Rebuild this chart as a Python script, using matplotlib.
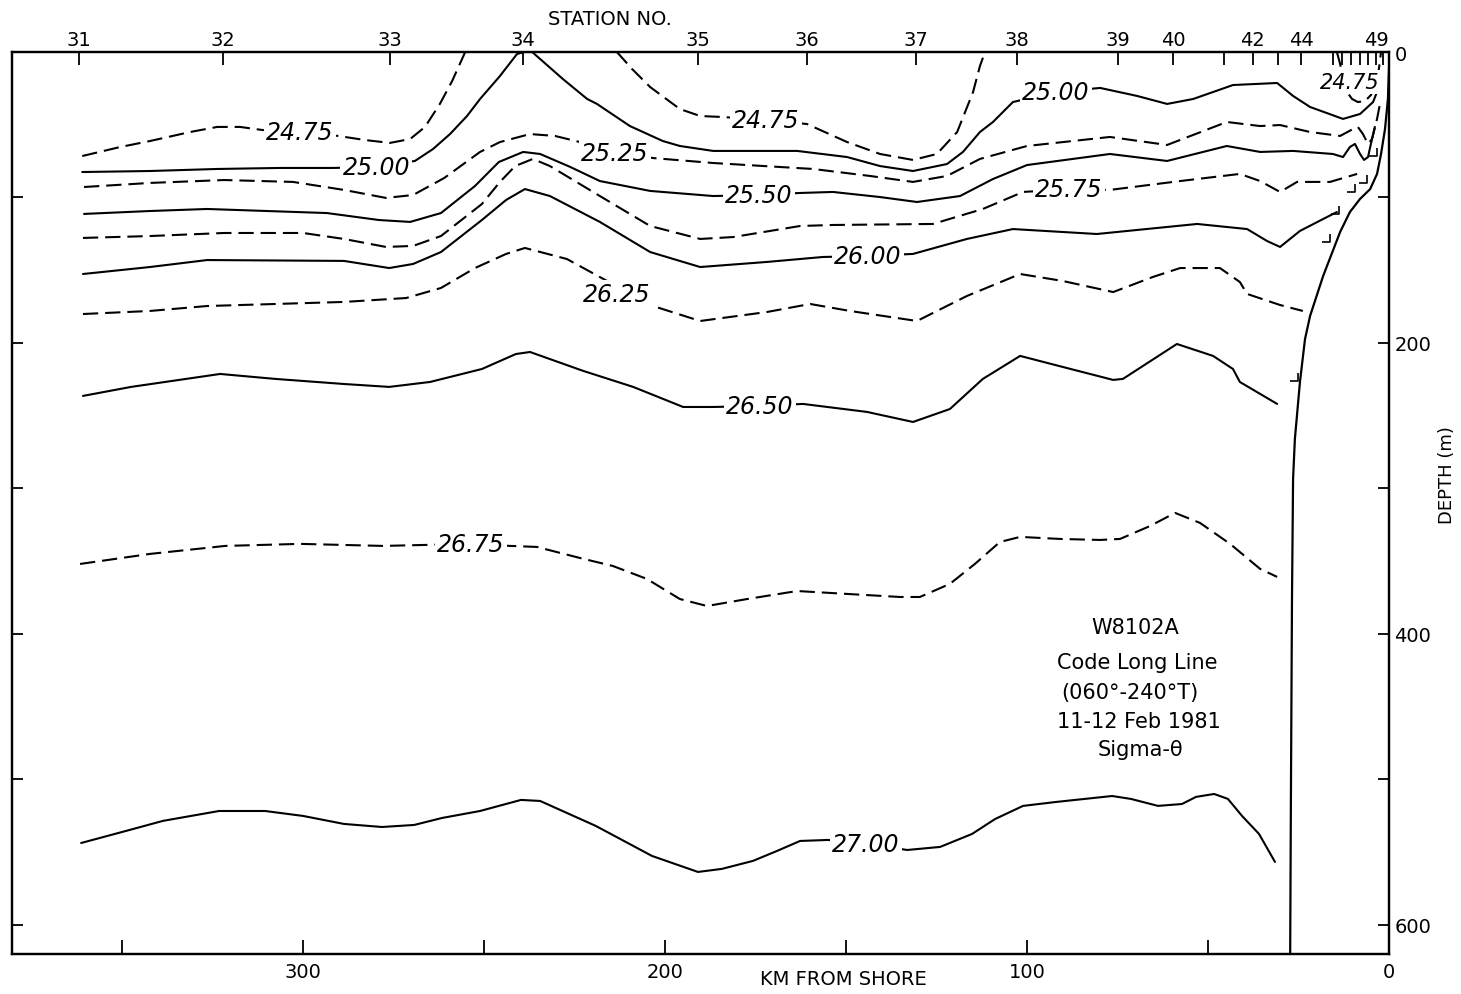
import matplotlib
matplotlib.use('Agg')
import matplotlib.pyplot as plt
from matplotlib.path import Path

# ---------------- axes / tick data ----------------
station_km = [361.9, 322.1, 276.0, 239.2, 190.9, 160.8, 130.7, 102.8, 74.9, 59.7,
              45.6, 37.6, 30.7, 24.3, 15.5, 13.0, 10.6, 8.0, 5.7, 3.5, 1.6]
station_lbl = ['31', '32', '33', '34', '35', '36', '37', '38', '39', '40',
               '', '42', '', '44', '', '', '', '', '', '49', '']

km_ticks = [350, 300, 250, 200, 150, 100, 50, 0]
km_tick_lbl = ['', '300', '', '200', '', '100', '', '0']
depth_ticks = [0, 100, 200, 300, 400, 500, 600]
depth_tick_lbl = ['0', '', '200', '', '400', '', '600']

# ---------------- isopycnals (km from shore, depth m) ----------------
s2475a_km = [361.0, 350.5, 342.3, 331.2, 323.7, 317.4, 311.3, 300.8, 290.3, 282.9, 276.0, 270.4, 266.3, 262.2, 258.8, 255.2]
s2475a_z = [71.5, 65.3, 61.2, 55.0, 51.5, 51.5, 53.6, 55.0, 57.7, 60.5, 62.5, 59.8, 51.5, 35.7, 19.9, 0]

s2475b_km = [213.3, 209.1, 204.1, 195.9, 190.3, 184.0, 172.1, 160.8, 149.7, 140.6, 131.5, 124.9, 119.3, 114.9, 113.0, 111.6]
s2475b_z = [0, 11.7, 24.1, 39.2, 44.0, 44.7, 46.7, 49.5, 61.9, 70.1, 74.2, 70.1, 55.0, 27.5, 9.6, 0]

s2475c_km = [14.4, 13.5, 12.7, 11.6, 10.2, 8.6, 6.6, 5.0, 3.6, 2.8, 2.2]
s2475c_z = [0, 8.2, 18.6, 27.5, 32.3, 34.4, 33.7, 29.6, 21.3, 11.7, 0]

s2500_km = [361.0, 342.3, 323.7, 306.3, 291.7, 279.8, 269.1, 264.1, 259.4, 254.7, 251.1, 245.6, 240.9, 238.9, 236.7,
            228.2, 221.5, 218.8, 209.7, 200.6, 195.9, 186.7, 163.5, 149.7, 140.6, 131.5, 122.1, 117.7, 113.0, 109.4,
            103.9, 92.0, 79.8, 69.6, 61.3, 54.1, 43.1, 30.9, 26.5, 21.8, 12.7, 8.0, 4.4, 3.0]
s2500_z = [82.5, 81.8, 80.4, 79.7, 79.7, 79.0, 74.9, 66.7, 56.4, 44.0, 32.3, 16.5, 1.4, 0, 0,
           18.6, 32.3, 35.7, 50.9, 61.2, 64.6, 68.0, 68.0, 72.2, 78.4, 81.8, 77.0, 68.7, 55.0, 48.1,
           34.4, 27.5, 24.7, 30.2, 35.7, 32.3, 22.7, 21.3, 30.2, 37.8, 46.0, 42.6, 34.4, 25.4]

s2525_km = [360.5, 342.3, 321.8, 302.8, 288.7, 277.1, 269.6, 261.0, 251.1, 245.6, 237.3, 230.4, 223.5, 213.8, 203.3,
            186.7, 159.1, 143.4, 131.5, 122.1, 113.0, 100.0, 77.1, 61.3, 44.8, 35.6, 30.1, 21.8, 13.5, 9.9,
            8.6, 7.2, 5.8, 4.7, 3.3, 2.5]
s2525_z = [92.8, 90.0, 88.0, 89.3, 94.8, 100.3, 98.3, 86.6, 68.7, 61.9, 56.4, 57.7, 61.9, 68.7, 72.9,
           76.3, 80.4, 85.2, 89.3, 85.2, 73.5, 64.6, 58.4, 63.9, 48.1, 50.9, 50.2, 55.0, 57.7, 52.9,
           51.5, 56.4, 63.2, 59.8, 46.0, 35.7]

s2550_km = [360.5, 342.3, 326.5, 293.4, 279.0, 270.4, 261.9, 252.5, 245.9, 239.2, 234.5, 226.2, 218.0, 204.1, 186.7,
            174.0, 162.7, 153.6, 140.6, 130.4, 118.5, 109.4, 100.0, 77.1, 61.3, 44.8, 35.6, 26.5, 15.5, 12.7,
            10.8, 9.4, 8.0, 6.9, 5.8, 5.0, 3.9]
s2550_z = [111.3, 109.3, 107.9, 110.7, 115.5, 116.8, 110.7, 92.1, 75.6, 68.7, 70.1, 79.0, 88.7, 95.5, 99.0,
           98.3, 96.9, 96.2, 99.7, 103.1, 99.0, 87.3, 77.7, 70.1, 74.9, 64.6, 68.7, 68.0, 70.1, 72.2,
           65.3, 63.2, 70.1, 74.2, 72.2, 63.2, 51.5]

s2575_km = [360.8, 342.3, 321.8, 300.0, 288.7, 277.1, 269.6, 261.9, 250.6, 245.6, 241.4, 236.5, 231.8, 218.0, 204.1,
            190.3, 181.2, 162.7, 153.6, 126.0, 112.2, 101.1, 88.4, 77.1, 57.7, 41.2, 35.6, 30.1, 25.4, 16.3, 8.8]
s2575_z = [127.8, 126.5, 124.4, 124.4, 128.5, 134.0, 133.3, 126.5, 104.5, 89.3, 78.4, 73.5, 78.4, 99.0, 119.6,
           128.5, 127.2, 119.6, 118.9, 118.2, 107.9, 96.2, 94.2, 94.8, 88.7, 83.8, 88.7, 96.2, 89.3, 89.3, 83.8]

s2600_km = [360.8, 342.3, 326.5, 288.7, 276.2, 269.6, 261.9, 250.6, 243.9, 238.7, 231.8, 218.0, 204.1, 190.3, 171.8,
            156.4, 143.9, 131.5, 116.6, 103.9, 80.7, 53.0, 39.2, 33.7, 30.1, 24.6, 18.2, 14.4]
s2600_z = [152.6, 147.8, 143.0, 143.6, 148.5, 145.7, 137.5, 115.5, 101.7, 94.2, 99.0, 116.8, 137.5, 147.8, 144.3,
           140.9, 140.2, 138.8, 128.5, 121.7, 125.1, 118.2, 121.7, 129.9, 134.0, 123.0, 114.8, 110.0]

s2625_km = [360.8, 342.3, 326.5, 288.7, 271.5, 261.9, 252.5, 243.9, 238.7, 227.1, 216.0, 211.0, 203.3, 190.3, 171.8,
            159.9, 148.9, 130.4, 116.6, 101.9, 90.1, 76.2, 65.2, 57.7, 46.7, 41.2, 39.2, 30.1, 23.8]
s2625_z = [180.1, 178.0, 174.6, 171.8, 169.1, 162.2, 148.5, 138.8, 134.7, 142.3, 157.4, 164.3, 174.6, 184.9, 178.7,
           173.2, 178.0, 184.9, 167.7, 152.6, 157.4, 165.0, 154.6, 148.5, 148.5, 158.1, 166.3, 173.9, 178.0]

s2650_km = [360.8, 347.5, 322.9, 307.7, 288.7, 276.2, 264.9, 250.6, 241.2, 237.3, 222.6, 208.8, 195.0, 186.7, 173.8,
            161.9, 144.2, 131.5, 121.3, 112.2, 101.9, 90.1, 76.2, 73.5, 58.6, 48.6, 43.1, 41.2, 30.9]
s2650_z = [236.4, 230.2, 221.3, 224.7, 228.2, 230.2, 226.8, 217.9, 207.6, 206.2, 219.2, 230.2, 244.0, 244.0, 243.3,
           241.9, 247.4, 254.3, 245.4, 224.7, 208.9, 216.5, 225.4, 224.7, 200.7, 208.9, 217.9, 226.8, 241.9]

s2675_km = [361.6, 342.3, 321.5, 300.8, 277.9, 253.9, 242.8, 235.4, 223.5, 214.4, 205.0, 195.9, 188.4, 177.3, 163.5,
            149.7, 135.1, 129.6, 121.3, 114.4, 107.5, 101.9, 90.9, 79.8, 74.3, 66.0, 59.1, 52.2, 43.9, 35.6, 30.9]
s2675_z = [351.9, 345.0, 339.5, 338.1, 339.5, 338.1, 339.5, 340.2, 347.8, 353.3, 362.2, 376.0, 380.8, 376.0, 370.5,
           372.5, 374.6, 374.6, 365.6, 351.9, 336.8, 333.3, 334.7, 335.4, 334.7, 325.8, 316.8, 323.7, 338.1, 355.3, 360.8]

s2700_km = [361.3, 348.9, 338.7, 323.2, 310.5, 300.0, 288.7, 278.2, 269.3, 261.6, 251.1, 239.8, 234.5, 219.1, 203.6,
            190.9, 184.3, 175.7, 169.1, 162.7, 155.0, 144.5, 133.1, 124.0, 115.2, 108.8, 101.1, 92.0, 76.5, 71.3,
            63.8, 57.2, 53.3, 48.3, 44.5, 40.6, 35.9, 31.5]
s2700_z = [543.7, 535.4, 528.5, 521.7, 521.7, 525.1, 530.6, 532.7, 531.3, 526.5, 521.7, 514.1, 514.8, 532.0, 552.6,
           563.6, 561.5, 556.0, 549.2, 542.3, 541.6, 544.3, 548.5, 546.4, 537.5, 527.2, 518.2, 515.5, 511.4, 513.4,
           518.2, 516.9, 512.0, 510.0, 513.4, 525.1, 537.5, 556.7]

# bottom profile (shelf / slope)
coast_km = [27.3, 27.1, 26.8, 26.5, 26.0, 24.6, 23.2, 21.8, 18.2, 13.5, 10.8, 8.0, 5.2, 3.3, 2.2, 1.1, 0.3, 0.0]
coast_z = [620, 513.4, 376.0, 293.5, 266.0, 226.8, 197.3, 181.4, 154.0, 123.7, 110.0, 101.0, 94.2, 83.8, 70.1, 52.9, 32.3, 11.7]

# station bottom marks
mark_km = [25.1, 16.3, 13.8, 9.4, 6.1, 3.3]
mark_z = [226.1, 130.6, 111.3, 96.2, 90.0, 71.5]

# contour labels
label_txt = ['24.75', '25.00', '24.75', '25.25', '25.50', '26.00', '26.25', '26.50', '26.75', '27.00', '25.00', '25.75', '24.75']
label_km = [300.8, 279.8, 172.1, 213.8, 174.0, 143.9, 213.3, 173.8, 253.6, 144.5, 92.0, 88.4, 10.8]
label_z = [55.0, 79.0, 46.7, 69.4, 98.3, 140.2, 166.3, 243.3, 338.1, 544.3, 27.5, 94.2, 20.6]

info_lines = ['W8102A', 'Code Long Line', '(060°-240°T)', '11-12 Feb 1981', 'Sigma-θ']

# ---------------- drawing ----------------
plt.rcParams['font.family'] = ['DejaVu Sans']
plt.rcParams['lines.scale_dashes'] = False

W, H = 1461, 995
fig = plt.figure(figsize=(W / 100, H / 100), dpi=100)
ax = fig.add_axes([12 / W, 1 - 955 / H, 1377 / W, 902 / H])
ax.set_xlim(380.4, 0)
ax.set_ylim(620, 0)

DASH = (0, (11, 5))
LW = 1.5
lines = [
    (s2475a_km, s2475a_z, True),
    (s2475b_km, s2475b_z, True),
    (s2475c_km, s2475c_z, True),
    (s2500_km, s2500_z, False),
    (s2525_km, s2525_z, True),
    (s2550_km, s2550_z, False),
    (s2575_km, s2575_z, True),
    (s2600_km, s2600_z, False),
    (s2625_km, s2625_z, True),
    (s2650_km, s2650_z, False),
    (s2675_km, s2675_z, True),
    (s2700_km, s2700_z, False),
]
for km, z, dashed in lines:
    ax.plot(km, z, color='black', lw=LW, linestyle=DASH if dashed else '-',
            solid_joinstyle='round', solid_capstyle='round', zorder=2, clip_on=True)

ax.plot(coast_km, coast_z, color='black', lw=1.6, solid_joinstyle='round', zorder=2)

corner = Path([(-1, 0), (0, 0), (0, 1)], [Path.MOVETO, Path.LINETO, Path.LINETO])
ax.plot(mark_km, mark_z, linestyle='none', marker=corner, markersize=11,
        markerfacecolor='none', markeredgecolor='black', markeredgewidth=1.2, zorder=3)

for t, k, z in zip(label_txt, label_km, label_z):
    fs = 15 if k < 20 else 17
    ax.text(k, z, t, fontsize=fs, style='italic', ha='center', va='center', zorder=4,
            bbox=dict(boxstyle='square,pad=0.1', fc='white', ec='none'))

# axes styling
for sp in ax.spines.values():
    sp.set_linewidth(1.6)

ax.set_xticks(km_ticks)
ax.set_xticklabels(km_tick_lbl)
ax.set_yticks(depth_ticks)
ax.set_yticklabels(depth_tick_lbl)

ax_top = ax.twiny()
ax_top.set_xlim(ax.get_xlim())
ax_top.set_xticks(station_km)
ax_top.set_xticklabels(station_lbl)
ax_top.tick_params(axis='x', direction='in', length=9, width=1.3, labelsize=14, pad=2.5)
for sp in ax_top.spines.values():
    sp.set_linewidth(1.6)

ax.tick_params(axis='x', direction='in', length=10, width=1.3, labelsize=14, pad=6,
               top=False, bottom=True)
ax.tick_params(axis='y', direction='in', length=8, width=1.3, left=True, right=True,
               labelleft=False, labelright=True, labelsize=14, pad=4)

ax.text(0.4343, 1.0366, 'STATION NO.', transform=ax.transAxes, fontsize=14,
        ha='center', va='center')
ax.text(0.604, -0.0277, 'KM FROM SHORE', transform=ax.transAxes, fontsize=14,
        ha='center', va='center')
ax.text(1.042, 0.532, 'DEPTH (m)', transform=ax.transAxes, fontsize=13,
        ha='center', va='center', rotation=90)

info_y = [0.3625, 0.3237, 0.2905, 0.2583, 0.2273]
info_x = [0.8155, 0.8173, 0.8119, 0.8184, 0.8192]
for t, x, y in zip(info_lines, info_x, info_y):
    ax.text(x, y, t, transform=ax.transAxes, fontsize=15, ha='center', va='center')

fig.savefig('out.png', dpi=100, facecolor='white')
